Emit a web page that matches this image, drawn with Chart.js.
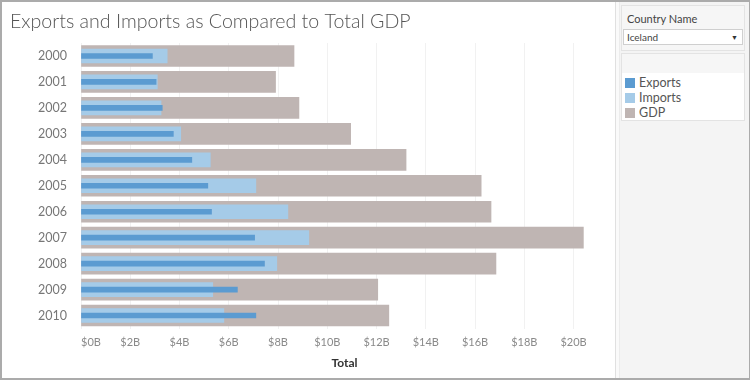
<!DOCTYPE html>
<html>
<head>
<meta charset="utf-8">
<script src="https://cdn.jsdelivr.net/npm/chart.js@4.4.0/dist/chart.umd.min.js"></script>
<style>
  html, body { margin: 0; padding: 0; background: #fff; }
  #frame { position: relative; width: 750px; height: 380px; overflow: hidden; font-family: Lato, "Open Sans", sans-serif; }
  #plot { position: absolute; left: 0; top: 0; width: 615px; height: 378px; }
  #side { position: absolute; left: 615px; top: 0; width: 135px; height: 380px; background: #f4f4f4;
          border-left: 1px solid #e0e0e0; box-shadow: inset 3px 0 0 #fafafa, inset 4px 0 0 #ececec; box-sizing: border-box; }
  .card { position: absolute; left: 5px; width: 124px; border: 1px solid #e3e3e3; box-sizing: border-box; }
  #filter { top: 5px; height: 46px; background: #f6f6f6; }
  #filter .lbl { position: absolute; left: 5px; top: 6px; font-size: 11px; color: #444; }
  #filter .drop { position: absolute; left: 1px; top: 23px; width: 120px; height: 16px; background: #fff;
                  border: 1px solid #cfcfcf; box-sizing: border-box; font-size: 10px; color: #444; line-height: 14px; padding-left: 3px; }
  #filter .drop span { position: absolute; right: 4px; top: 0; font-size: 7px; color: #333; }
  #legend { top: 53px; height: 68px; background: linear-gradient(#f6f6f6 0, #f6f6f6 19px, #fff 19px); }
  .item { position: absolute; left: 3px; height: 12px; font-size: 12.5px; color: #555; line-height: 12px; }
  .item i { display: inline-block; width: 10px; height: 10px; vertical-align: top; margin: 1px 4px 0 0; }
  #edge { position: absolute; left: 0; top: 0; width: 750px; height: 380px; box-sizing: border-box;
          border: 2px solid #ababab; border-right-width: 1px; pointer-events: none; }
</style>
</head>
<body>
<div id="frame">
  <canvas id="plot" width="615" height="378"></canvas>
  <div id="side">
    <div class="card" id="filter">
      <div class="lbl">Country Name</div>
      <div class="drop">Iceland<span>&#9660;</span></div>
    </div>
    <div class="card" id="legend"></div>
  </div>
  <div id="edge"></div>
</div>
<script>
// values in billions of US$
const years = ['2000', '2001', '2002', '2003', '2004', '2005', '2006', '2007', '2008', '2009', '2010'];
const exportsVals = [2.9, 3.05, 3.3, 3.75, 4.5, 5.15, 5.3, 7.05, 7.45, 6.35, 7.1];
const importsVals = [3.5, 3.1, 3.25, 4.05, 5.25, 7.1, 8.4, 9.25, 7.95, 5.35, 5.8];
const gdpVals = [8.65, 7.9, 8.85, 10.95, 13.2, 16.25, 16.65, 20.4, 16.85, 12.05, 12.5];
const xTicks = [0, 2, 4, 6, 8, 10, 12, 14, 16, 18, 20];
const seriesNames = ['Exports', 'Imports', 'GDP'];

const colors = ['#5b9bd1', '#a5cbe8', '#bfb5b3'];
const thickness = [5, 14, 21];
const X_MAX = 21.4;

const legend = document.getElementById('legend');
legend.innerHTML = seriesNames.map((n, i) =>
    `<div class="item" style="top:${23 + i * 15}px"><i style="background:${colors[i]}"></i>${n}</div>`
).join('');

const values = [exportsVals, importsVals, gdpVals];

new Chart(document.getElementById('plot').getContext('2d'), {
    type: 'bar',
    data: {
        labels: years,
        datasets: seriesNames.map((n, i) => ({
            label: n,
            data: values[i],
            backgroundColor: colors[i],
            barThickness: thickness[i],
            grouped: false
        }))
    },
    options: {
        indexAxis: 'y',
        responsive: false,
        animation: false,
        layout: { padding: { left: 10, right: 7, top: 0, bottom: 0 } },
        plugins: {
            legend: { display: false },
            tooltip: { enabled: false },
            title: {
                display: true,
                text: 'Exports and Imports as Compared to Total GDP',
                align: 'start',
                color: '#555',
                font: { family: 'Lato', size: 19.6, weight: '300' },
                padding: { top: 10, bottom: 9.5 }
            }
        },
        scales: {
            x: {
                min: 0,
                max: X_MAX,
                afterBuildTicks: (s) => { s.ticks = xTicks.map((v) => ({ value: v })).concat([{ value: X_MAX }]); },
                afterFit: (s) => { s.height = 49.5; },
                grid: {
                    color: (c) => (c.tick && c.tick.value === X_MAX ? 'rgba(0,0,0,0)' : '#f1f1f1'),
                    drawTicks: false
                },
                border: { display: false },
                ticks: {
                    align: 'inner',
                    padding: 7,
                    color: '#8a8a8a',
                    font: { family: 'Lato', size: 11 },
                    callback: (v) => (xTicks.includes(v) ? '$' + v + 'B' : '')
                },
                title: {
                    display: true,
                    text: 'Total',
                    color: '#333',
                    font: { family: 'Lato', size: 12, weight: 'bold' },
                    padding: { top: 4, bottom: 8 }
                }
            },
            y: {
                afterFit: (s) => { s.width = 71; },
                grid: { display: false },
                border: { display: false },
                ticks: { padding: 6, color: '#777', font: { family: 'Lato', size: 12.5 } }
            }
        }
    }
});
</script>
</body>
</html>
